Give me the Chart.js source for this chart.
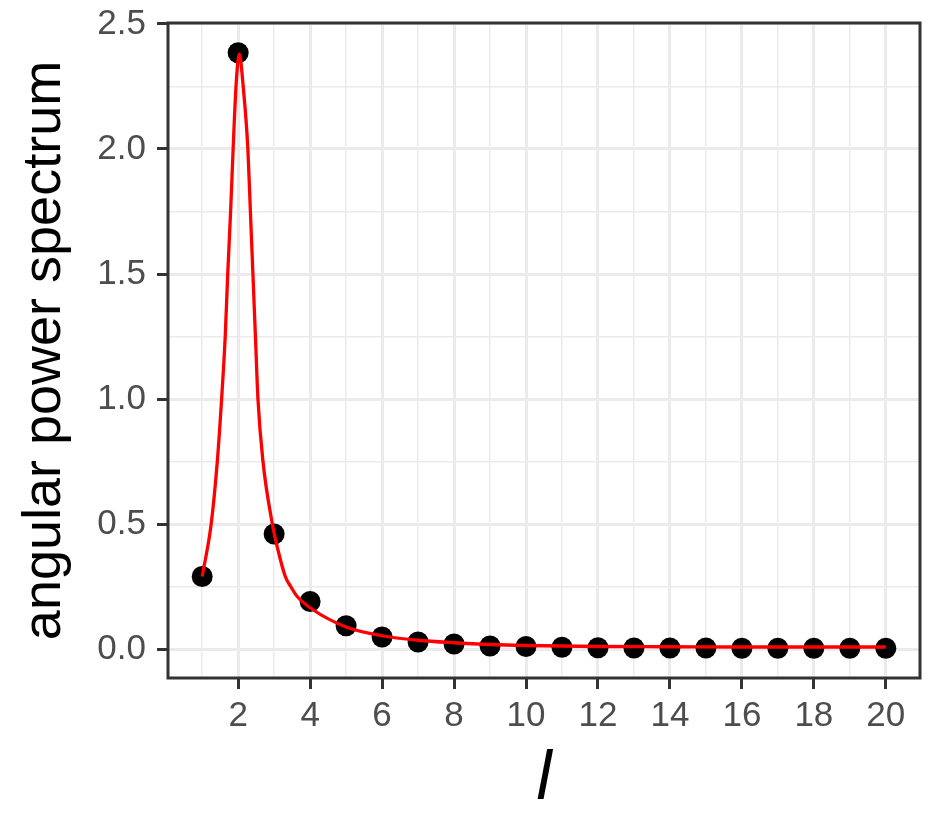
<!DOCTYPE html>
<html lang="en">
<head>
    <meta charset="UTF-8">
    <title>Angular power spectrum</title>
    <style>
        body {
            margin: 0;
            background-color: #fff;
        }
        canvas {
            display: block;
        }
    </style>
    <script src="https://cdn.jsdelivr.net/npm/chart.js"></script>
</head>
<body>
    <canvas id="spectrum" width="944" height="826"></canvas>

    <script>
        // Observed spectrum at each degree l
        const degrees = [1, 2, 3, 4, 5, 6, 7, 8, 9, 10, 11, 12, 13, 14, 15, 16, 17, 18, 19, 20];
        const power = [0.29, 2.385, 0.46, 0.19, 0.093, 0.048, 0.028, 0.02, 0.012, 0.01,
                       0.007, 0.005, 0.004, 0.004, 0.004, 0.003, 0.003, 0.003, 0.003, 0.003];

        // Fitted curve
        const fitL = [1.00, 1.25, 1.42, 1.54, 1.64, 1.71, 1.79, 1.86, 1.94, 2.03,
                      2.14, 2.27, 2.34, 2.41, 2.48, 2.55, 2.69, 2.95, 3.10, 3.31,
                      3.46, 3.64, 4.05, 5, 6, 7, 8, 9, 10, 12, 14, 16, 18, 20];
        const fitV = [0.29, 0.50, 0.75, 1.00, 1.25, 1.50, 1.75, 2.00, 2.25, 2.38,
                      2.25, 2.00, 1.75, 1.50, 1.25, 1.00, 0.75, 0.50, 0.40, 0.29,
                      0.25, 0.21, 0.16, 0.088, 0.053, 0.035, 0.025, 0.018, 0.014, 0.010,
                      0.009, 0.008, 0.008, 0.008];

        // Axis ticks (even x and half-unit y are labelled)
        const xTicks = [1, 2, 3, 4, 5, 6, 7, 8, 9, 10, 11, 12, 13, 14, 15, 16, 17, 18, 19, 20];
        const yTicks = [0, 0.25, 0.5, 0.75, 1, 1.25, 1.5, 1.75, 2, 2.25, 2.5];

        const isMajorX = v => v % 2 === 0;
        const isMajorY = v => Math.abs(v * 2 - Math.round(v * 2)) < 1e-9;

        const tickFont = { family: 'Arial, "Liberation Sans", sans-serif', size: 35 };
        const gridCol = '#EBEBEB';
        const frameCol = '#333333';

        // ggplot style panel border on all four sides
        const panelBorder = {
            id: 'panelBorder',
            afterDatasetsDraw(chart) {
                const { ctx, chartArea: a } = chart;
                ctx.save();
                ctx.strokeStyle = frameCol;
                ctx.lineWidth = 3;
                ctx.strokeRect(a.left, a.top, a.right - a.left, a.bottom - a.top);
                ctx.restore();
            }
        };

        new Chart(document.getElementById('spectrum'), {
            type: 'scatter',
            data: {
                datasets: [
                    {
                        label: 'fit',
                        data: fitL.map((l, i) => ({ x: l, y: fitV[i] })),
                        showLine: true,
                        borderColor: '#FF0000',
                        borderWidth: 3.3,
                        pointRadius: 0,
                        cubicInterpolationMode: 'monotone'
                    },
                    {
                        label: 'observed',
                        data: degrees.map((l, i) => ({ x: l, y: power[i] })),
                        pointRadius: 10.5,
                        pointBackgroundColor: '#000',
                        pointBorderWidth: 0
                    }
                ]
            },
            options: {
                responsive: false,
                animation: false,
                layout: { padding: { left: 0, top: 23, right: 24, bottom: 0 } },
                plugins: {
                    legend: { display: false },
                    tooltip: { enabled: false }
                },
                scales: {
                    x: {
                        type: 'linear',
                        min: 0.05,
                        max: 20.95,
                        afterBuildTicks: s => { s.ticks = xTicks.map(v => ({ value: v })); },
                        afterFit: s => {
                            s.height = 148;
                            s.paddingLeft = 0;
                            s.paddingRight = 0;
                        },
                        border: { display: false },
                        grid: {
                            color: gridCol,
                            lineWidth: c => isMajorX(c.tick.value) ? 3 : 1.5,
                            tickLength: 11,
                            tickWidth: 3,
                            tickColor: c => isMajorX(c.tick.value) ? frameCol : 'rgba(0,0,0,0)'
                        },
                        ticks: {
                            autoSkip: false,
                            maxRotation: 0,
                            padding: 6,
                            color: '#4D4D4D',
                            font: tickFont,
                            callback: v => isMajorX(v) ? String(v) : ''
                        },
                        title: {
                            display: true,
                            text: 'l',
                            color: '#000',
                            font: { family: 'Arial, "Liberation Sans", sans-serif', size: 68, style: 'italic', lineHeight: 1 },
                            padding: { top: 0, bottom: 12 }
                        }
                    },
                    y: {
                        min: -0.116,
                        max: 2.504,
                        afterBuildTicks: s => { s.ticks = yTicks.map(v => ({ value: v })); },
                        afterFit: s => {
                            s.width = 168;
                            s.paddingTop = 0;
                            s.paddingBottom = 0;
                        },
                        border: { display: false },
                        grid: {
                            color: gridCol,
                            lineWidth: c => isMajorY(c.tick.value) ? 3 : 1.5,
                            tickLength: 11,
                            tickWidth: 3,
                            tickColor: c => isMajorY(c.tick.value) ? frameCol : 'rgba(0,0,0,0)'
                        },
                        ticks: {
                            autoSkip: false,
                            padding: 11,
                            color: '#4D4D4D',
                            font: tickFont,
                            callback: v => isMajorY(v) ? v.toFixed(1) : ''
                        },
                        title: {
                            display: true,
                            text: 'angular power spectrum',
                            color: '#000',
                            font: { family: 'Arial, "Liberation Sans", sans-serif', size: 54, lineHeight: 1 },
                            padding: { top: 18, bottom: 0 }
                        }
                    }
                }
            },
            plugins: [panelBorder]
        });
    </script>
</body>
</html>
